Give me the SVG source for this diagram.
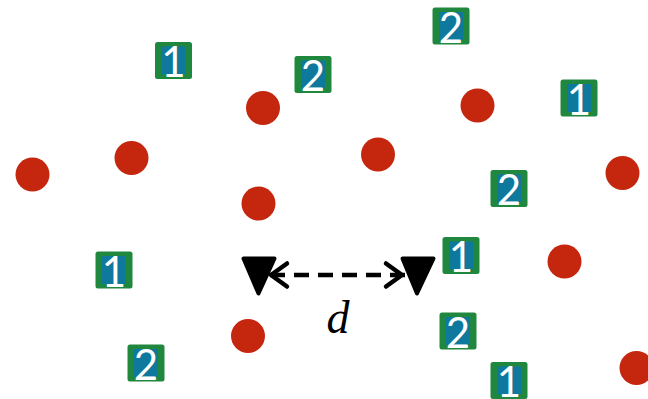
<svg xmlns="http://www.w3.org/2000/svg" width="648" height="399" viewBox="0 0 648 399">
  <style>
    .box { fill: #20873e; }
    .inner { fill: #0e789d; }
    .num { fill: #ffffff; font-family: Lato, "Open Sans", sans-serif; font-size: 42px; text-anchor: middle; }
    .dot { fill: #c4260e; }
    .tri { fill: #000; stroke: #000; stroke-width: 4; stroke-linejoin: round; }
    .dash { fill: none; stroke: #000; stroke-width: 4.5; stroke-dasharray: 15 9; }
    .head { fill: none; stroke: #000; stroke-width: 4.5; stroke-linecap: round; stroke-linejoin: round; }
    .lbl { font-family: "Liberation Serif", "DejaVu Serif", serif; font-style: italic; font-size: 46px; fill: #000; text-anchor: middle; }
  </style>
  <defs>
    <g id="tile">
      <rect class="box" x="-18.5" y="-18.5" width="37" height="37" rx="2.5"/>
      <rect class="inner" x="-12" y="-14" width="24" height="28"/>
    </g>
  </defs>

  <!-- red points -->
  <g id="p1"><circle class="dot" cx="32.5" cy="174.5" r="17"/></g>
  <g id="p2"><circle class="dot" cx="131.5" cy="158" r="17"/></g>
  <g id="p3"><circle class="dot" cx="263" cy="108" r="17"/></g>
  <g id="p4"><circle class="dot" cx="258.5" cy="203.5" r="17"/></g>
  <g id="p5"><circle class="dot" cx="378" cy="154.5" r="17"/></g>
  <g id="p6"><circle class="dot" cx="477.5" cy="105.5" r="17"/></g>
  <g id="p7"><circle class="dot" cx="622.5" cy="173" r="17"/></g>
  <g id="p8"><circle class="dot" cx="564.5" cy="261.5" r="17"/></g>
  <g id="p9"><circle class="dot" cx="248" cy="336" r="17"/></g>
  <g id="p10"><circle class="dot" cx="636.5" cy="368" r="17"/></g>

  <!-- numbered tiles -->
  <g id="t1" transform="translate(173.5 60.5)"><use href="#tile"/><text class="num" x="0" y="16.5">1</text></g>
  <g id="t2" transform="translate(313 74.5)"><use href="#tile"/><text class="num" x="0" y="16.5">2</text></g>
  <g id="t3" transform="translate(451 26)"><use href="#tile"/><text class="num" x="0" y="16.5">2</text></g>
  <g id="t4" transform="translate(579 98)"><use href="#tile"/><text class="num" x="0" y="16.5">1</text></g>
  <g id="t5" transform="translate(509 188.5)"><use href="#tile"/><text class="num" x="0" y="16.5">2</text></g>
  <g id="t6" transform="translate(461 255.5)"><use href="#tile"/><text class="num" x="0" y="16.5">1</text></g>
  <g id="t7" transform="translate(458 331)"><use href="#tile"/><text class="num" x="0" y="16.5">2</text></g>
  <g id="t8" transform="translate(509 380.5)"><use href="#tile"/><text class="num" x="0" y="16.5">1</text></g>
  <g id="t9" transform="translate(114 270)"><use href="#tile"/><text class="num" x="0" y="16.5">1</text></g>
  <g id="t10" transform="translate(146 363)"><use href="#tile"/><text class="num" x="0" y="16.5">2</text></g>

  <!-- markers and distance arrow -->
  <g id="markA"><polygon class="tri" points="243.5,258.5 274.5,258.5 258.5,293.5"/></g>
  <g id="markB"><polygon class="tri" points="402.5,258.5 433.5,258.5 417,293.5"/></g>

  <g id="connectors">
    <line class="dash" x1="270" y1="275" x2="406" y2="275"/>
    <polyline class="head" points="287,263.5 271,275 287,286.5"/>
    <polyline class="head" points="386,263.5 402,275 386,286.5"/>
  </g>

  <text class="lbl" x="338" y="333">d</text>
</svg>
